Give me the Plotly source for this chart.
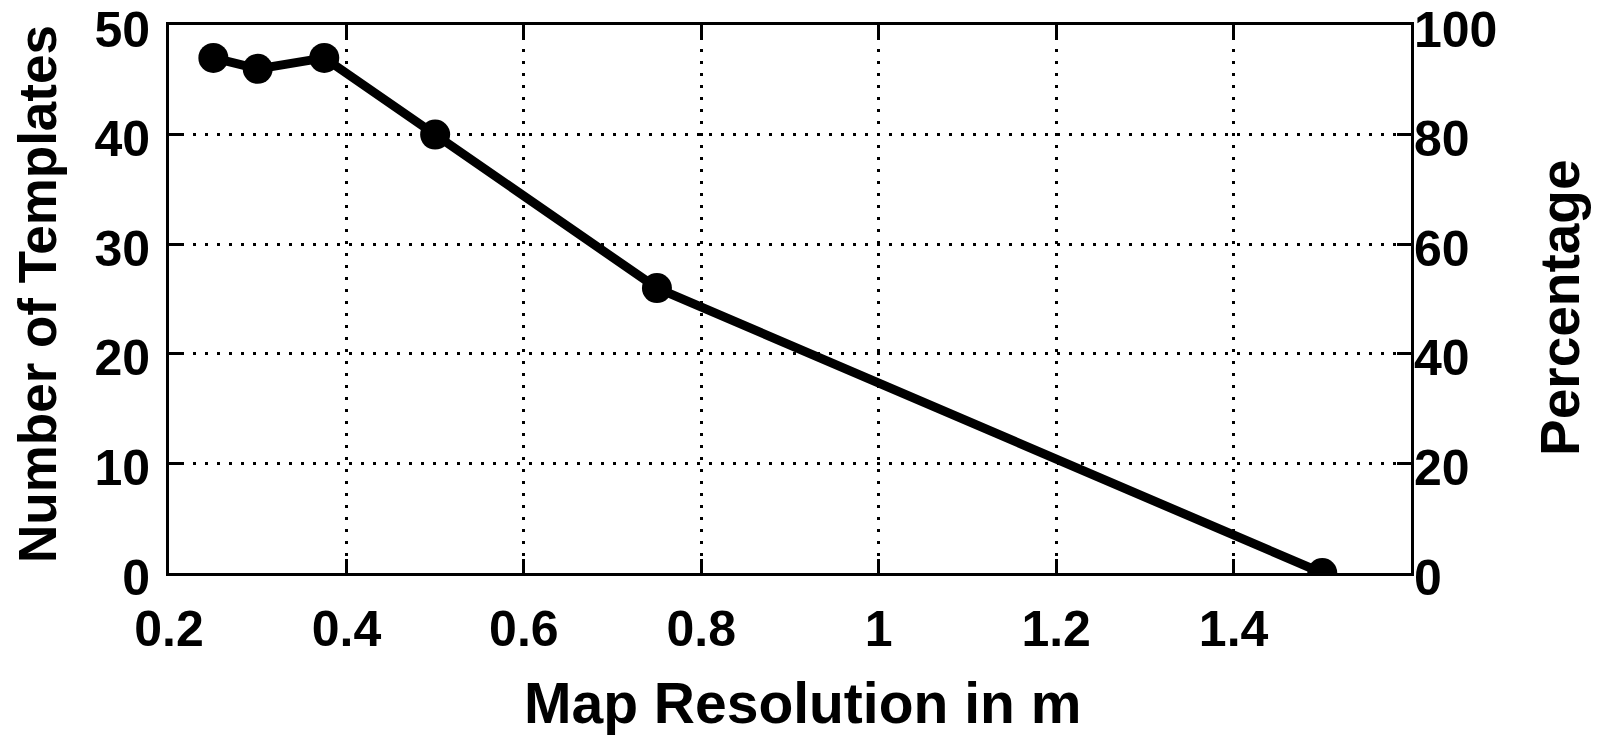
import plotly.graph_objects as go

resolution = [0.25, 0.3, 0.375, 0.5, 0.75, 1.5]
templates = [47, 46, 47, 40, 26, 0]
percentage = [t / 50 * 100 for t in templates]
x_ticks = [0.2, 0.4, 0.6, 0.8, 1.0, 1.2, 1.4]
x_tick_labels = ["0.2", "0.4", "0.6", "0.8", "1", "1.2", "1.4"]
y_ticks = [0, 10, 20, 30, 40, 50]
y2_ticks = [0, 20, 40, 60, 80, 100]

FONT = "Liberation Sans"
tickfont = dict(family=FONT, size=50, color="black", weight="bold")


def tfont(size):
    return dict(family=FONT, size=size, color="black", weight="bold")


L, R, T, B = 169, 192, 25, 164
W, H = 1603, 737
PW, PH = W - L - R, H - T - B

fig = go.Figure()
fig.add_trace(go.Scatter(
    x=resolution, y=templates, mode="lines+markers",
    line=dict(color="black", width=9),
    marker=dict(color="black", size=30, symbol="circle"),
    showlegend=False, hoverinfo="skip",
))
fig.add_trace(go.Scatter(
    x=resolution, y=percentage, mode="lines", yaxis="y2",
    line=dict(color="rgba(0,0,0,0)", width=0),
    showlegend=False, hoverinfo="skip",
))

grid = dict(showgrid=True, gridcolor="black", gridwidth=3, griddash="3px,9px")

fig.update_layout(
    width=W, height=H,
    margin=dict(l=L, r=R, t=T, b=B),
    paper_bgcolor="white", plot_bgcolor="white",
    font=dict(family=FONT, color="black"),
    xaxis=dict(
        range=[0.2, 1.6], tickvals=x_ticks, ticktext=x_tick_labels,
        tickfont=tickfont, ticks="inside", ticklen=14, tickwidth=3, tickcolor="black",
        showline=True, linecolor="black", linewidth=3, mirror="ticks",
        zeroline=False, ticklabelstandoff=10, ticklabeloverflow="allow",
        automargin=False, **grid,
    ),
    yaxis=dict(
        range=[0, 50], tickvals=y_ticks,
        tickfont=tickfont, ticks="inside", ticklen=14, tickwidth=3, tickcolor="black",
        showline=True, linecolor="black", linewidth=3, mirror=True,
        zeroline=False, ticklabelstandoff=6, ticklabelshift=4,
        ticklabeloverflow="allow", automargin=False, **grid,
    ),
    yaxis2=dict(
        range=[0, 100], tickvals=y2_ticks, overlaying="y", side="right",
        tickfont=tickfont, ticks="inside", ticklen=14, tickwidth=3, tickcolor="black",
        showline=False, showgrid=False, zeroline=False,
        ticklabelstandoff=2, ticklabelshift=4,
        ticklabeloverflow="allow", automargin=False,
    ),
    annotations=[
        dict(text="Map Resolution in m", font=tfont(57),
             xref="paper", yref="paper", x=0.5, y=0, xanchor="center", yanchor="middle",
             xshift=802 - (L + PW / 2), yshift=-(703 - (T + PH)), showarrow=False),
        dict(text="Number of Templates", font=tfont(53), textangle=-90,
             xref="paper", yref="paper", x=0, y=0.5, xanchor="center", yanchor="middle",
             xshift=-(L - 37), yshift=PH / 2 - (294 - T), showarrow=False),
        dict(text="Percentage", font=tfont(55), textangle=-90,
             xref="paper", yref="paper", x=1, y=0.5, xanchor="center", yanchor="middle",
             xshift=1560 - (W - R), yshift=PH / 2 - (308 - T), showarrow=False),
    ],
)

fig.write_html("out.html")
